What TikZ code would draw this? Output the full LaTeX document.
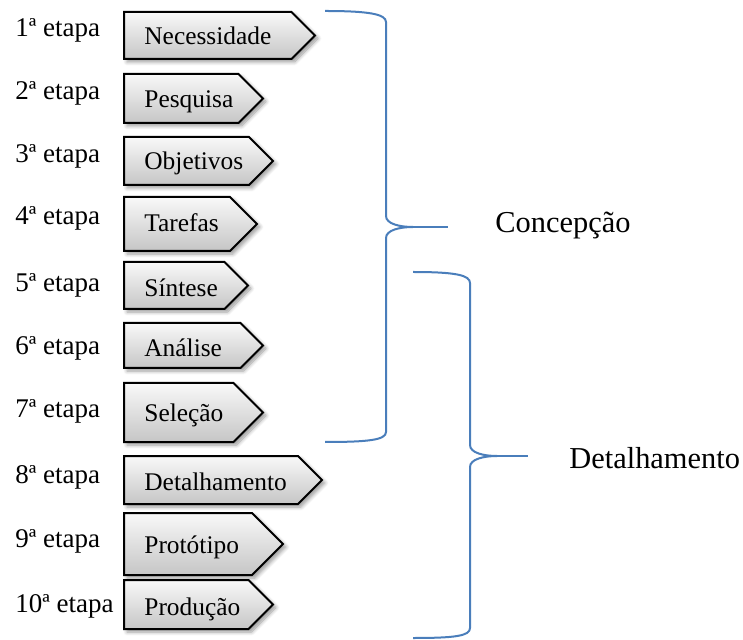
\documentclass[tikz,border=0pt]{standalone}
\usepackage{fontspec}
\setmainfont{Liberation Serif}
\usetikzlibrary{shadows.blur}

\definecolor{chaveazul}{RGB}{74,126,187}
\newcommand{\etapafont}{\fontsize{13.5}{16}\selectfont}
\newcommand{\caixafont}{\fontsize{12.7}{15}\selectfont}
\newcommand{\fasefont}{\fontsize{15.2}{18}\selectfont}

\tikzset{
  etapabox/.style={draw=black, line width=1pt, line join=miter,
    top color=gray!5, bottom color=gray!45,
    blur shadow={shadow xshift=1.5pt, shadow yshift=-1.5pt, shadow blur steps=6}},
  chave/.style={draw=chaveazul, line width=1pt},
}

\begin{document}
\begin{tikzpicture}[x=0.5pt, y=-0.5pt]
    \useasboundingbox (0,0) rectangle (743,640);

    % Etapas: top / bottom / tip / label baseline / text baseline / text
    \foreach \n/\tp/\bt/\tip/\lb/\tb/\txt in {
        1/12/59/315/37/45/Necessidade,
        2/74/123/263/100/108/Pesquisa,
        3/137/185/273/163/170/Objetivos,
        4/197/251/257/225/232/Tarefas,
        5/262/309/248/292/297/Síntese,
        6/323/368/263/355/357/Análise,
        7/383/442/263/417/422/Seleção,
        8/456/504/322/483/490/Detalhamento,
        9/513/575/283/547/553/Protótipo,
        10/580/629/273/612/615/Produção}
    {
        \pgfmathsetmacro\md{(\tp+\bt)/2}
        \pgfmathsetmacro\sh{\tip-(\bt-\tp)/2}
        \path[etapabox] (124,\tp) -- (\sh,\tp) -- (\tip,\md) -- (\sh,\bt) -- (124,\bt) -- cycle;
        \node[anchor=base west, inner sep=0pt, font=\caixafont] (b\n) at (144,\tb) {\txt};
        \node[anchor=base west, inner sep=0pt, font=\etapafont] (e\n) at (15,\lb) {{\n}ª etapa};
    }

    % Chave: Concepcao
    \draw[chave] (325,11) .. controls (368,11) and (386,14) .. (386,22) -- (386,216)
        .. controls (386,224) and (400,227) .. (413,227)
        .. controls (400,227) and (386,230) .. (386,238) -- (386,432)
        .. controls (386,440) and (368,442) .. (325,442);
    \draw[chave] (413,227) -- (448,227);
    \node[anchor=base west, inner sep=0pt, font=\fasefont] (concepcao) at (495,233) {Concepção};

    % Chave: Detalhamento
    \draw[chave] (413,272) .. controls (455,272) and (470,275) .. (470,283) -- (470,445)
        .. controls (470,453) and (484,456) .. (497,456)
        .. controls (484,456) and (470,459) .. (470,467) -- (470,628)
        .. controls (470,636) and (455,638) .. (413,638);
    \draw[chave] (497,456) -- (528,456);
    \node[anchor=base west, inner sep=0pt, font=\fasefont] (detalhamento) at (569,468) {Detalhamento};
\end{tikzpicture}
\end{document}
